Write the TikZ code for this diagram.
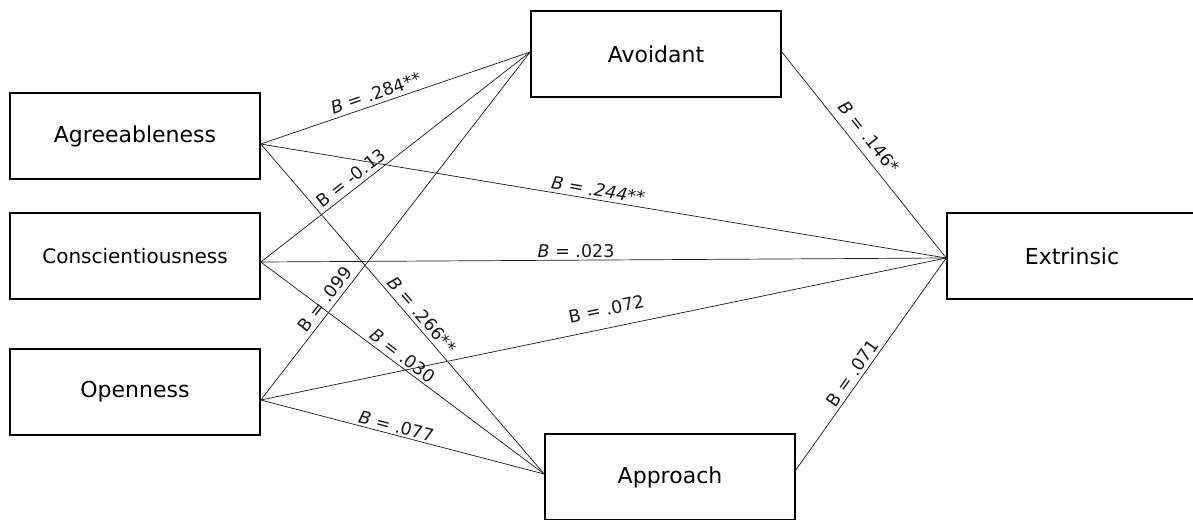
\documentclass[tikz,border=0pt]{standalone}
\usepackage{fontspec}
\setmainfont{DejaVu Sans}
\usepackage{tikz}

\tikzset{
  box/.style={draw, line width=1.6pt, minimum width=250pt, minimum height=86pt,
    font=\fontsize{22}{26}\selectfont},
  link/.style={line width=0.7pt, black!90},
  coef/.style={sloped, above, inner sep=4pt, font=\fontsize{17.5}{20}\selectfont}
}

\begin{document}
\begin{tikzpicture}[x=1pt,y=-1pt]
    \useasboundingbox (0,0) rectangle (1193,519);
    \clip (0,0) rectangle (1193,519);
    \node[box] (agr) at (135,136) {Agreeableness};
    \node[box, font=\fontsize{20}{24}\selectfont] (con) at (135,256) {Conscientiousness};
    \node[box] (ope) at (135,392) {Openness};
    \node[box] (avo) at (656,54) {Avoidant};
    \node[box] (app) at (670,477) {Approach};
    \node[box] (ext) at (1072,256) {Extrinsic};
    % to Avoidant
    \draw[link] ([yshift=-8pt]agr.east) -- node[coef, pos=0.44] {\textit{B} = .284**} ([yshift=2pt]avo.west);
    \draw[link] ([yshift=-6pt]con.east) -- node[coef, pos=0.36] {B = -0.13} ([yshift=2pt]avo.west);
    \draw[link] ([yshift=-8pt]ope.east) -- node[coef, pos=0.27] {B = .099} ([yshift=2pt]avo.west);
    % to Extrinsic
    \draw[link] ([yshift=-8pt]agr.east) -- node[coef, pos=0.49, inner sep=3pt] {\textit{B = .244**}} ([yshift=-2pt]ext.west);
    \draw[link] ([yshift=-6pt]con.east) -- node[coef, pos=0.46, inner sep=2pt] {\textit{B} = .023} ([yshift=-2pt]ext.west);
    \draw[link] ([yshift=-8pt]ope.east) -- node[coef, pos=0.51, inner sep=12pt] {B = .072} ([yshift=-2pt]ext.west);
    % to Approach
    \draw[link] ([yshift=-8pt]agr.east) -- node[coef, pos=0.54] {\textit{B} = .266**} ([yshift=3pt]app.west);
    \draw[link] ([yshift=-6pt]con.east) -- node[coef, pos=0.48, inner sep=3pt] {\textit{B} = .030} ([yshift=3pt]app.west);
    \draw[link] ([yshift=-8pt]ope.east) -- node[coef, pos=0.47, inner sep=2pt] {\textit{B} = .077} ([yshift=3pt]app.west);
    % mediators
    \draw[link] ([yshift=2pt]avo.east) -- node[coef, pos=0.46, inner sep=8pt] {\textit{B} = .146*} ([yshift=-2pt]ext.west);
    \draw[link] ([yshift=7pt]app.east) -- node[coef, pos=0.43, inner sep=3pt] {B = .071} ([yshift=-2pt]ext.west);
\end{tikzpicture}
\end{document}
